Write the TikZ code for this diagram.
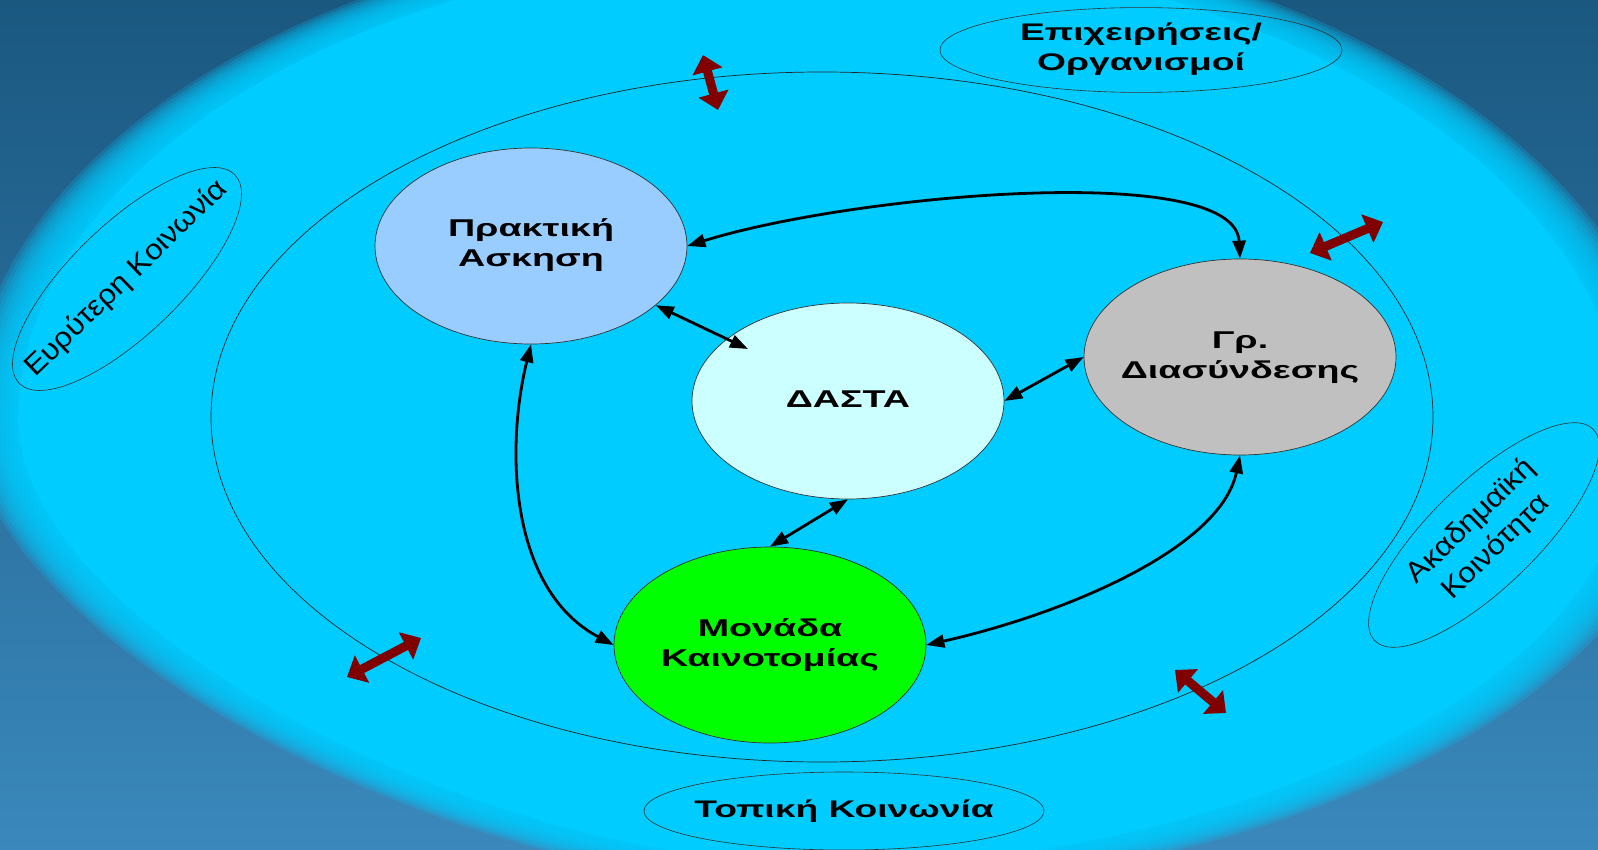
\documentclass[tikz,border=0pt]{standalone}
\usepackage{fontspec}
\setmainfont{Liberation Sans}
\usetikzlibrary{shapes.geometric,arrows.meta,calc}
\definecolor{bgtop}{RGB}{26,88,128}
\definecolor{bgbot}{RGB}{58,136,188}
\definecolor{cyanbg}{RGB}{0,204,255}
\definecolor{prakc}{RGB}{153,204,255}
\definecolor{dastac}{RGB}{204,255,255}
\definecolor{grc}{RGB}{192,192,192}
\definecolor{monc}{RGB}{0,255,0}
\definecolor{redarr}{RGB}{128,0,0}
\newcommand{\stx}[1]{\scalebox{1.55}[1]{\begin{tabular}{@{}c@{}}#1\end{tabular}}}
\newcommand{\rtx}[1]{\scalebox{1.1}[1]{\begin{tabular}{@{}c@{}}#1\end{tabular}}}
\newcommand{\zw}[1]{\makebox[0pt]{#1}}
\def\cyanpath{(2,420) .. controls (2,155) and (365,-60) .. (812,-60) .. controls (1272,-60) and (1645,168) .. (1645,450) .. controls (1645,705) and (1202,875) .. (840,875) .. controls (463,875) and (2,625) .. (2,420) -- cycle}
\begin{document}
\begin{tikzpicture}[x=1pt,y=-1pt,
  unit/.style={ellipse, draw=black!80, line width=0.7pt, minimum width=312pt, minimum height=196pt, inner sep=0pt, font=\fontsize{24.3}{30}\selectfont\bfseries},
  grp/.style={ellipse, draw=black!80, line width=0.6pt, inner sep=0pt, font=\fontsize{24}{30}\selectfont\bfseries},
  rgrp/.style={ellipse, draw=black!80, line width=0.6pt, inner sep=0pt, font=\fontsize{28.5}{36}\selectfont},
  link/.style={line width=2.8pt, {Triangle[length=18pt,width=13pt]}-{Triangle[length=18pt,width=13pt]}},
  redlink/.style={redarr, line width=9pt, {Triangle[length=17pt,width=30pt]}-{Triangle[length=17pt,width=30pt]}},
]
\useasboundingbox (0,0) rectangle (1598,850);
\shade[top color=bgtop, bottom color=bgbot] (0,0) rectangle (1598,850);
% soft-edged cyan field
\foreach \s in {1.040,1.035,1.030,1.025,1.020,1.015,1.010,1.005,1.000,0.995,0.990,0.985} {
  \begin{scope}[shift={(812,420)}, scale=\s, shift={(-812,-420)}]
    \fill[cyanbg, opacity=0.2] \cyanpath;
  \end{scope}
}
\begin{scope}[shift={(812,420)}, scale=0.98, shift={(-812,-420)}]
  \fill[cyanbg] \cyanpath;
\end{scope}
% inner boundary
\draw[line width=0.7pt, black!85] (822,417) ellipse [x radius=611, y radius=345];
% outer groups
\node[grp, minimum width=402pt, minimum height=80pt] (epix) at (1141,50) {\zw{\stx{Επιχειρήσεις/\\Οργανισμοί}}};
\node[grp, minimum width=400pt, minimum height=78pt] (topk) at (844,811) {\zw{\stx{Τοπική Κοινωνία}}};
\node[rgrp, minimum width=300pt, minimum height=110pt, rotate=44] (euryt) at (127,279) {\zw{\rtx{Ευρύτερη Κοινωνία}}};
\node[rgrp, minimum width=304pt, minimum height=106pt, rotate=44] (akad) at (1484,535) {\zw{\rtx{Ακαδημαϊκή\\Κοινότητα}}};
% units
\node[unit, fill=prakc] (prak) at (531,246) {\zw{\stx{Πρακτική\\Ασκηση}}};
\node[unit, fill=dastac] (dasta) at (848,401) {\zw{\stx{ΔΑΣΤΑ}}};
\node[unit, fill=grc] (gr) at (1240,357) {\zw{\stx{Γρ.\\Διασύνδεσης}}};
\node[unit, fill=monc] (mon) at (770,645) {\zw{\stx{Μονάδα\\Καινοτομίας}}};
% links
\draw[link] (prak) -- ($(dasta.center)+(-100,-52)$);
\draw[link] (dasta.east) -- (gr.west);
\draw[link] (dasta.south) -- (mon.north);
\draw[link] (prak.east) .. controls (850,195) and (1235,160) .. (gr.north);
\draw[link] (prak.south) .. controls (505,450) and (510,590) .. (mon.west);
\draw[link] (gr.south) .. controls (1220,550) and (1060,615) .. (mon.east);
% exchange arrows
\coordinate (r1a) at (703,55);   \coordinate (r1b) at (718,110);
\coordinate (r2a) at (1310,253); \coordinate (r2b) at (1383,222);
\coordinate (r3a) at (347,677);  \coordinate (r3b) at (421,638);
\coordinate (r4a) at (1175,670); \coordinate (r4b) at (1226,713);
\draw[redlink] (r1a) -- (r1b);
\draw[redlink] (r2a) -- (r2b);
\draw[redlink] (r3a) -- (r3b);
\draw[redlink] (r4a) -- (r4b);
\end{tikzpicture}
\end{document}
